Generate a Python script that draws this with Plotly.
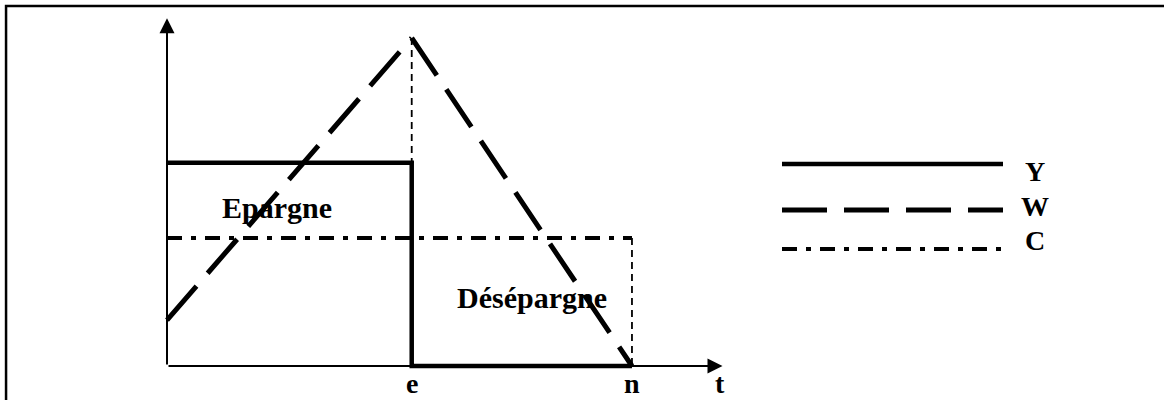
import plotly.graph_objects as go

# values (t in periods, levels in arbitrary units)
t_points = [0, 10, 19]          # start, e (retirement), n (end of life)
y_t = [0, 10, 10, 19]
y_income = [62, 62, 0, 0]
w_wealth = [14, 100, 0]
c_t = [0, 19]
c_consumption = [39, 39]

t_axis_end = 22.7
v_axis_end = 106

tick_labels = ["e", "n", "t"]
tick_t = [10, 19, 22.6]

region_labels = ["Epargne", "Désépargne"]
region_t = [4.5, 14.9]
region_v = [48.3, 21]

series_names = ["Y", "W", "C"]

FONT = "Liberation Serif, Times New Roman, serif"
styles = {
    "Y": dict(color="black", width=4.5, dash="solid"),
    "W": dict(color="black", width=5, dash="45px,17px"),
    "C": dict(color="black", width=4, dash="15px,9px,5px,9px"),
    "guide": dict(color="black", width=1.8, dash="7px,5px"),
}

fig = go.Figure()

# income Y
fig.add_trace(go.Scatter(x=y_t, y=y_income, mode="lines", line=styles["Y"]))

# wealth W: rising then falling, drawn as two strokes
fig.add_trace(go.Scatter(x=t_points[:2], y=w_wealth[:2], mode="lines", line=styles["W"]))
fig.add_trace(go.Scatter(x=t_points[1:], y=w_wealth[1:], mode="lines", line=styles["W"]))

# consumption C
fig.add_trace(go.Scatter(x=c_t, y=c_consumption, mode="lines", line=styles["C"]))

# thin guides: peak of W down to Y at e, C down to axis at n
fig.add_trace(go.Scatter(x=[t_points[1], t_points[1]], y=[w_wealth[1], y_income[1]],
                         mode="lines", line=styles["guide"]))
fig.add_trace(go.Scatter(x=[c_t[1], c_t[1]], y=[c_consumption[1], 0],
                         mode="lines", line=styles["guide"]))

# axes drawn as arrows
for tip_x, tip_y in [(0, v_axis_end), (t_axis_end, 0)]:
    fig.add_annotation(x=tip_x, y=tip_y, ax=0, ay=0, axref="x", ayref="y",
                       xref="x", yref="y", text="", showarrow=True,
                       arrowhead=2, arrowwidth=2, arrowsize=1.5, arrowcolor="black",
                       standoff=0, startstandoff=0)

for lab, tx in zip(tick_labels, tick_t):
    fig.add_annotation(x=tx, y=-5.2, text=lab, showarrow=False,
                       xanchor="center", yanchor="middle",
                       font=dict(family=FONT, size=28, color="black", weight="bold"))

for lab, tx, vy in zip(region_labels, region_t, region_v):
    fig.add_annotation(x=tx, y=vy, text=lab, showarrow=False,
                       xanchor="center", yanchor="middle",
                       font=dict(family=FONT, size=30, color="black", weight="bold"))

# hand-drawn style legend on the right
legend_line_y = [0.59, 0.475, 0.3775]
legend_text_y = [0.5725, 0.485, 0.40]
for name, ly, ty in zip(series_names, legend_line_y, legend_text_y):
    fig.add_shape(type="line", xref="paper", yref="paper",
                  x0=782 / 1164, x1=1003 / 1164, y0=ly, y1=ly, line=styles[name])
    fig.add_annotation(xref="paper", yref="paper", x=1035 / 1164, y=ty, text=name,
                       showarrow=False, xanchor="center", yanchor="middle",
                       font=dict(family=FONT, size=28, color="black", weight="bold"))

# frame (top and left edges only)
fig.add_shape(type="path", xref="paper", yref="paper",
              path="M 0.0052,0 L 0.0052,0.985 L 1,0.985",
              line=dict(color="black", width=2.5))

fig.update_layout(
    width=1164, height=400,
    margin=dict(l=0, r=0, t=0, b=0),
    showlegend=False,
    plot_bgcolor="white", paper_bgcolor="white",
    xaxis=dict(range=[-6.824, 40.74], visible=False, fixedrange=True),
    yaxis=dict(range=[-10.37, 111.59], visible=False, fixedrange=True),
)

# page body has a default 8px margin; drop it so the figure fills the window
fig.write_html("out.html", config={"displayModeBar": False},
               post_script="document.body.style.margin='0';")
